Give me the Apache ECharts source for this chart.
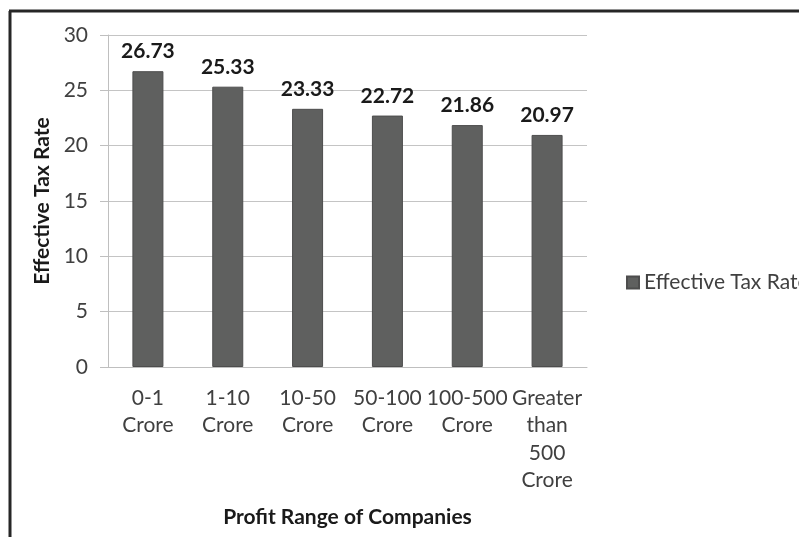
<!DOCTYPE html>
<html>
<head>
<meta charset="utf-8">
<script src="https://cdn.jsdelivr.net/npm/echarts@6/dist/echarts.min.js"></script>
<style>
  html, body { margin: 0; padding: 0; background: #fff; }
  #chart { width: 799px; height: 537px; }
</style>
</head>
<body>
<div id="chart"></div>
<script>
// Profit bands of companies and the effective tax rate paid in each
const categories = ['0-1\nCrore', '1-10\nCrore', '10-50\nCrore', '50-100\nCrore', '100-500\nCrore', 'Greater\nthan\n500\nCrore'];
const taxRates = [26.73, 25.33, 23.33, 22.72, 21.86, 20.97];
const yTicks = { min: 0, max: 30, step: 5 };

const FONT = 'Lato, "Open Sans", sans-serif';
const FS = 21;
const chart = echarts.init(document.getElementById('chart'), null, { renderer: 'canvas' });

chart.setOption({
  backgroundColor: '#ffffff',
  animation: false,
  textStyle: { fontFamily: FONT },
  grid: { left: 108, right: 212, top: 35, bottom: 170, containLabel: false },
  graphic: [
    // frame on the left and top edges
    { type: 'line', shape: { x1: 10, y1: 11, x2: 10, y2: 537 }, style: { stroke: '#262626', lineWidth: 3 } },
    { type: 'line', shape: { x1: 9, y1: 11, x2: 799, y2: 11 }, style: { stroke: '#262626', lineWidth: 3 } }
  ],
  legend: {
    data: ['Effective Tax Rate'],
    left: 621,
    top: 267,
    icon: 'rect',
    itemWidth: 12,
    itemHeight: 12,
    itemGap: 6,
    textStyle: { fontSize: FS, color: '#404040', fontFamily: FONT }
  },
  xAxis: {
    type: 'category',
    data: categories,
    name: 'Profit Range of Companies',
    nameLocation: 'middle',
    nameGap: 140,
    nameTextStyle: { fontSize: FS, fontWeight: 'bold', color: '#1a1a1a', fontFamily: FONT },
    axisLine: { show: true, lineStyle: { color: '#bfbfbf', width: 1 } },
    axisTick: { show: false },
    axisLabel: { interval: 0, margin: 17, fontSize: FS, lineHeight: 27.5, color: '#404040', fontFamily: FONT }
  },
  yAxis: {
    type: 'value',
    min: yTicks.min,
    max: yTicks.max,
    interval: yTicks.step,
    name: 'Effective Tax Rate',
    nameLocation: 'middle',
    nameGap: 53,
    nameRotate: 90,
    nameTextStyle: { fontSize: FS, fontWeight: 'bold', color: '#1a1a1a', fontFamily: FONT },
    axisLine: { show: true, lineStyle: { color: '#bfbfbf', width: 1 } },
    axisTick: { show: true, inside: false, length: 8, lineStyle: { color: '#bfbfbf' } },
    splitLine: { show: true, lineStyle: { color: '#c4c4c4', width: 1 } },
    axisLabel: { margin: 20, fontSize: FS, color: '#404040', fontFamily: FONT }
  },
  series: [{
    name: 'Effective Tax Rate',
    type: 'bar',
    data: taxRates,
    barWidth: 31,
    itemStyle: { color: '#5f605f', borderColor: '#4d4d4d', borderWidth: 1 },
    label: {
      show: true,
      position: 'top',
      distance: 9,
      fontSize: FS,
      fontWeight: 'bold',
      color: '#1a1a1a',
      fontFamily: FONT,
      formatter: p => p.value.toFixed(2)
    }
  }]
});
</script>
</body>
</html>
